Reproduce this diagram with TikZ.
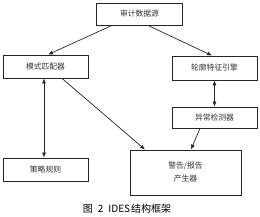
\documentclass[tikz,border=0pt]{standalone}
\usepackage{fontspec}
\newfontfamily\cjk{Noto Sans CJK SC}
\usetikzlibrary{arrows.meta}
\begin{document}
\begin{tikzpicture}[x=1pt,y=-1pt,
  box/.style={draw=black!85,line width=0.8pt,inner sep=0pt,font=\cjk\fontsize{7.8}{10}\selectfont,text=black!80},
  conn/.style={draw=black!85,line width=0.7pt,-{Latex[length=5pt,width=4pt]}},
  dconn/.style={draw=black!85,line width=0.7pt,{Latex[length=5pt,width=4pt]}-{Latex[length=5pt,width=4pt]}}]
\useasboundingbox (0,0) rectangle (260,217);
\node[box,minimum width=86pt,minimum height=22pt] (src) at (139.5,14) {审计数据源};
\node[box,minimum width=85pt,minimum height=23pt] (pm) at (45.5,66.5) {模式匹配器};
\node[box,minimum width=85pt,minimum height=24pt] (pe) at (214.5,68) {轮廓特征引擎};
\node[box,minimum width=85pt,minimum height=21pt] (ad) at (214.5,117.5) {异常检测器};
\node[box,minimum width=85pt,minimum height=23pt] (pr) at (45.5,169.5) {策略规则};
\node[box,minimum width=111pt,minimum height=45pt,align=center] (al) at (185.5,172.5) {警告/报告\\[3pt]产生器};
\node[font=\cjk\fontsize{10}{10}\selectfont,inner sep=0pt] (cap) at (127,209) {图\hspace{5pt}2\hspace{5pt}IDES\hspace{1pt}结构框架};
\draw[conn] (src.south -| 112,0) -- (pm.north -| 48,0);
\draw[conn] (src.south -| 148,0) -- (pe.north -| 212,0);
\draw[dconn] (pe.south) -- (ad.north);
\draw[dconn] (pm.south -| 44,0) -- (pr.north -| 44,0);
\draw[conn] (pm.south -| 62,0) -- (al.north -| 145,0);
\draw[conn] (ad.south -| 200,0) -- (al.north -| 191,0);
\end{tikzpicture}
\end{document}
